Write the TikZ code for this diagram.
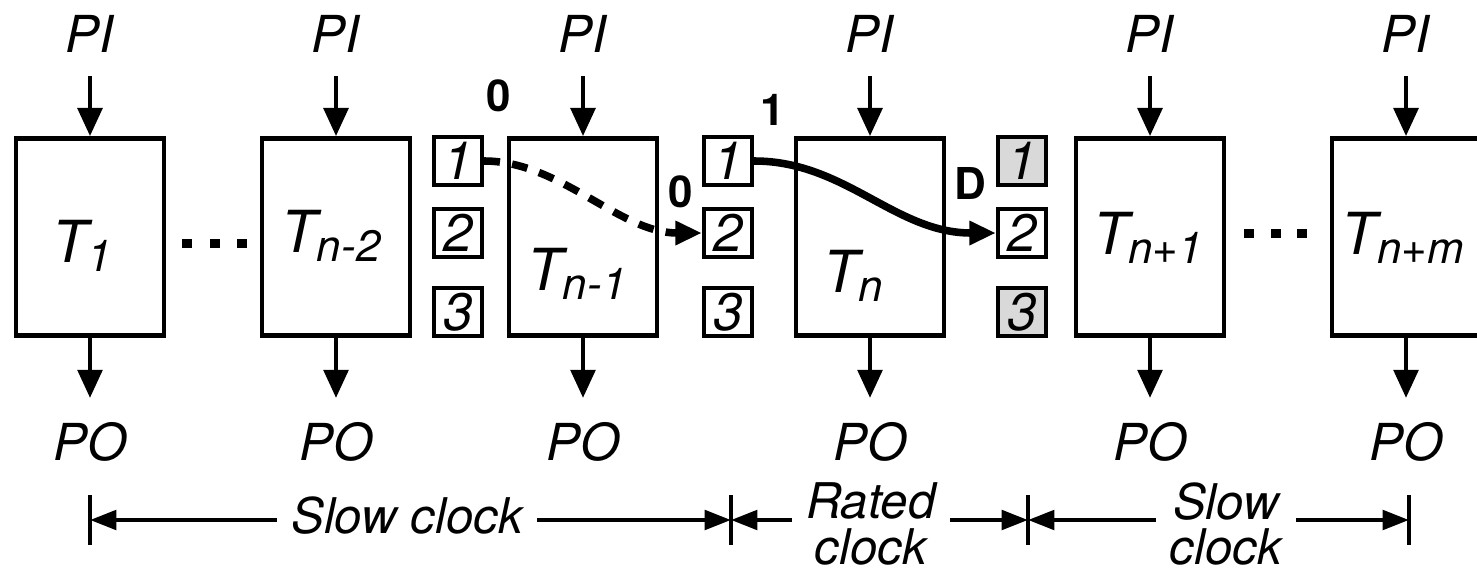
\documentclass[tikz,border=0pt]{standalone}
\usepackage{fontspec}
\setmainfont{TeX Gyre Heros}
\usetikzlibrary{arrows.meta,positioning}
\newcommand{\tname}[1]{T\raisebox{-5.5pt}{\fontsize{25}{25}\selectfont #1}}

\begin{document}
\begin{tikzpicture}[x=0.02cm, y=-0.02cm,
    block/.style={draw, line width=2.8pt, minimum width=2.96cm, minimum height=3.94cm, inner sep=0pt},
    ff/.style={draw, line width=2.5pt, minimum size=0.96cm, inner sep=0pt, font=\fontsize{30}{30}\selectfont\itshape},
    ffgray/.style={ff, fill=gray!30},
    io/.style={inner sep=0pt, font=\fontsize{29}{34}\selectfont\itshape},
    tlab/.style={inner sep=0pt, font=\fontsize{33}{33}\selectfont\itshape},
    bit/.style={inner sep=0pt, font=\fontsize{25}{25}\selectfont\bfseries},
    clk/.style={inner xsep=8pt, inner ysep=0pt, align=center, font=\fontsize{28}{26}\selectfont\itshape},
    arr/.style={line width=2.4pt, -{Triangle[length=16pt, width=14pt]}},
    dimline/.style={line width=2.4pt, -{Triangle[length=15pt, width=11pt]}},
    trace/.style={line width=4.3pt, -{Triangle[length=15pt, width=13pt]}}]
    \useasboundingbox (0,0) rectangle (1477,575);

    \node[block] (t1) at (90,237) {};
    \node[block] (tn2) at (336,237) {};
    \node[block] (tn1) at (583,237) {};
    \node[block] (tn) at (870,237) {};
    \node[block] (tnp1) at (1150,237) {};
    \node[block] (tnm) at (1406,237) {};

    \node[tlab, anchor=base] (t1lab) at (82,262) {\tname{1}};
    \node[tlab, anchor=base] (tn2lab) at (331,252) {\tname{n-2}};
    \node[tlab, anchor=base] (tn1lab) at (577,290) {\tname{n-1}};
    \node[tlab, anchor=base] (tnlab) at (853,292) {\tname{n}};
    \node[tlab, anchor=base] (tnp1lab) at (1148,254) {\tname{n+1}};
    \node[tlab, anchor=base] (tnmlab) at (1403,254) {\tname{n+m}};

    \node[ff] (fa1) at (458,161) {1};
    \node[ff] (fa2) at (458,233) {2};
    \node[ff] (fa3) at (458,312) {3};
    \node[ff] (fb1) at (728,161) {1};
    \node[ff] (fb2) at (728,233) {2};
    \node[ff] (fb3) at (728,312) {3};
    \node[ffgray] (fc1) at (1022,161) {1};
    \node[ff] (fc2) at (1022,233) {2};
    \node[ffgray] (fc3) at (1022,312) {3};

    \foreach \x in {187,215,242} \fill (\x-5,239) rectangle (\x+5,248);
    \foreach \x in {1249,1276,1302} \fill (\x-5,229) rectangle (\x+5,238);

    \foreach \n/\x in {1/90,2/336,3/583,4/870,5/1150,6/1406} {
        \node[io, anchor=base] (pi\n) at (\x,52) {PI};
        \node[io, anchor=base] (po\n) at (\x,460) {PO};
    }
    \draw[arr, shorten <=13.5pt] (pi1) -- (t1);
    \draw[arr, shorten <=13.5pt] (pi2) -- (tn2);
    \draw[arr, shorten <=13.5pt] (pi3) -- (tn1);
    \draw[arr, shorten <=13.5pt] (pi4) -- (tn);
    \draw[arr, shorten <=13.5pt] (pi5) -- (tnp1);
    \draw[arr, shorten <=13.5pt] (pi6) -- (tnm);
    \draw[arr, shorten >=13.5pt] (t1) -- (po1);
    \draw[arr, shorten >=13.5pt] (tn2) -- (po2);
    \draw[arr, shorten >=13.5pt] (tn1) -- (po3);
    \draw[arr, shorten >=13.5pt] (tn) -- (po4);
    \draw[arr, shorten >=13.5pt] (tnp1) -- (po5);
    \draw[arr, shorten >=13.5pt] (tnm) -- (po6);

    \draw[trace, dash pattern=on 9pt off 7pt] (fa1.east) .. controls (560,161) and (620,233) .. (fb2.west);
    \draw[trace] (fb1.east) .. controls (845,161) and (895,233) .. (fc2.west);
    \node[bit] (b0a) at (499,96) {0};
    \node[bit] (b0b) at (681,192) {0};
    \node[bit] (b1) at (773,110) {1};
    \node[bit] (bd) at (970,183) {D};

    \foreach \x/\n in {90/d0,731/d1,1028/d2,1409/d3} {
        \coordinate (\n) at (\x,520);
        \draw[line width=1.8pt] (\x,495) -- (\x,545);
    }
    \node[clk, anchor=base] (slowa) at (407,533) {Slow clock};
    \node[clk] (rated) at (871,524) {Rated\\clock};
    \node[clk] (slowb) at (1226,524) {Slow\\clock};
    \draw[dimline] (slowa.west |- d0) -- (d0);
    \draw[dimline] (slowa.east |- d0) -- (d1);
    \draw[dimline] (rated.west |- d1) -- (d1);
    \draw[dimline] (rated.east |- d1) -- (d2);
    \draw[dimline] (slowb.west |- d2) -- (d2);
    \draw[dimline] (slowb.east |- d2) -- (d3);
\end{tikzpicture}
\end{document}
